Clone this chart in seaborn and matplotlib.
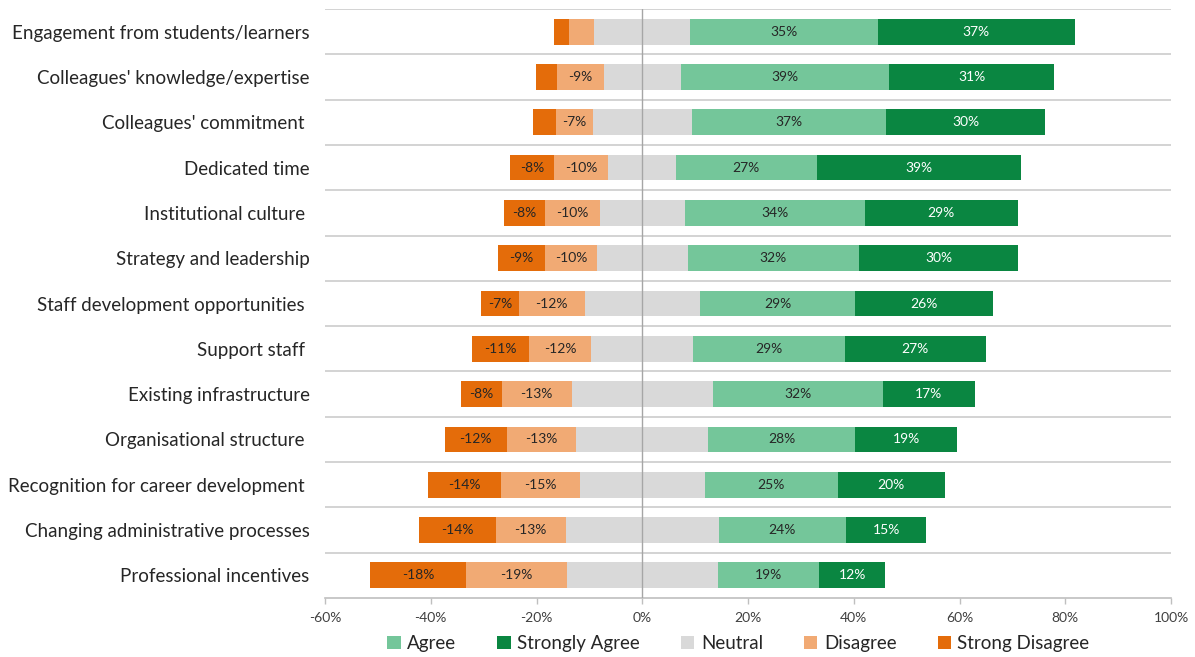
import matplotlib
matplotlib.use("Agg")
import matplotlib.pyplot as plt
from matplotlib.patches import Patch
import numpy as np
import pandas as pd
import seaborn as sns

categories = [
    "Engagement from students/learners",
    "Colleagues' knowledge/expertise",
    "Colleagues' commitment ",
    "Dedicated time",
    "Institutional culture ",
    "Strategy and leadership",
    "Staff development opportunities ",
    "Support staff ",
    "Existing infrastructure",
    "Organisational structure ",
    "Recognition for career development ",
    "Changing administrative processes",
    "Professional incentives",
]
agree = [35.4, 39.4, 36.7, 26.6, 34.0, 32.3, 29.4, 28.7, 32.1, 27.8, 25.2, 24.1, 19.2]
strongly_agree = [37.4, 31.3, 30.2, 38.6, 29.0, 30.2, 26.0, 26.6, 17.4, 19.3, 20.2, 15.2, 12.4]
neutral = [18.2, 14.5, 18.7, 12.8, 16.1, 17.3, 21.8, 19.3, 26.7, 24.9, 23.6, 28.9, 28.6]
disagree = [4.8, 8.9, 6.9, 10.2, 10.4, 9.7, 12.4, 11.8, 13.2, 13.2, 15.0, 13.3, 19.0]
strong_disagree = [2.8, 4.0, 4.4, 8.4, 7.7, 8.9, 7.2, 10.7, 7.7, 11.7, 13.7, 14.4, 18.1]
x_ticks = [-60, -40, -20, 0, 20, 40, 60, 80, 100]
legend_labels = ["Agree", "Strongly Agree", "Neutral", "Disagree", "Strong Disagree"]

C_AGREE = "#74C69A"
C_SA = "#0A8641"
C_NEU = "#D9D9D9"
C_DIS = "#F1AA74"
C_SD = "#E46C0A"

sns.set_theme(style="white")
plt.rcParams["font.family"] = ["Lato", "DejaVu Sans"]

df = pd.DataFrame({
    "cat": categories,
    "A": agree, "SA": strongly_agree, "N": neutral,
    "D": disagree, "SD": strong_disagree,
})
half = df["N"] / 2
df["r_sa"] = half + df["A"] + df["SA"]
df["r_a"] = half + df["A"]
df["r_n"] = half
df["l_sd"] = -(half + df["D"] + df["SD"])
df["l_d"] = -(half + df["D"])
df["l_n"] = -half

fig = plt.figure(figsize=(11.95, 6.57), dpi=100)
ax = fig.add_axes([325 / 1195, 1 - 598 / 657, (1171 - 325) / 1195, (598 - 9) / 657])

bw = 0.57
for col, color in [("r_sa", C_SA), ("r_a", C_AGREE), ("r_n", C_NEU),
                   ("l_sd", C_SD), ("l_d", C_DIS), ("l_n", C_NEU)]:
    sns.barplot(data=df, x=col, y="cat", color=color, saturation=1,
                width=bw, linewidth=0, orient="h", ax=ax)

# data labels
for i, row in df.iterrows():
    h = row["N"] / 2
    segs = [
        (h + row["A"] / 2, row["A"], "#262626", ""),
        (h + row["A"] + row["SA"] / 2, row["SA"], "white", ""),
        (-(h + row["D"] / 2), row["D"], "#262626", "-"),
        (-(h + row["D"] + row["SD"] / 2), row["SD"], "#262626", "-"),
    ]
    for xc, v, c, sign in segs:
        if v >= 5.5:
            ax.text(xc, i, f"{sign}{int(round(v))}%", ha="center", va="center",
                    fontsize=10, color=c)

ax.set_xlim(-60, 100)
ax.set_ylim(len(categories) - 0.5, -0.5)
ax.set_xticks(x_ticks)
ax.set_xticklabels([f"{t}%" for t in x_ticks], fontsize=10, color="#404040")
ax.tick_params(axis="x", length=4, width=1, color="#BFBFBF", pad=6, bottom=True)
ax.tick_params(axis="y", length=0, pad=11, labelsize=13.5, labelcolor="#262626")
ax.set_xlabel("")
ax.set_ylabel("")

for s in ["top", "right", "left"]:
    ax.spines[s].set_visible(False)
ax.spines["bottom"].set_color("#BFBFBF")
ax.spines["bottom"].set_linewidth(1.2)

for k in range(len(categories)):
    ax.axhline(k - 0.5, color="#D0D0D0", linewidth=1.3, zorder=0)
ax.axvline(0, color="#A6A6A6", linewidth=1, zorder=5)

handles = [Patch(facecolor=c, edgecolor="none") for c in [C_AGREE, C_SA, C_NEU, C_DIS, C_SD]]
fig.legend(handles, legend_labels, loc="center", bbox_to_anchor=(0.618, 0.02),
           ncol=5, frameon=False, fontsize=13.5, handlelength=0.7, handleheight=0.7,
           handletextpad=0.35, columnspacing=2.2, labelcolor="#262626")

fig.savefig("out.png", dpi=100)
